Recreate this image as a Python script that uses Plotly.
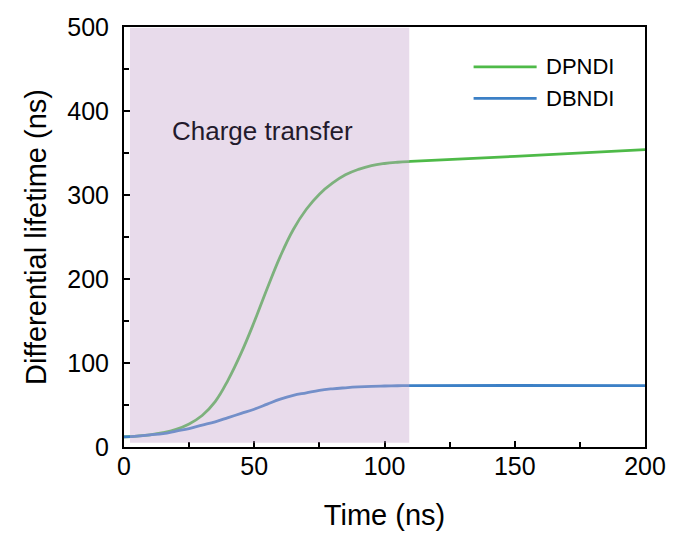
import plotly.graph_objects as go

# Time axis (ns)
time_ns = [0, 5, 10, 15, 20, 25, 30, 35, 40, 45, 50, 55, 60, 65, 70, 75,
           80, 85, 90, 95, 100, 105, 110, 150, 200]

# Differential lifetime (ns)
dpndi = [12, 13, 14.5, 17, 21, 27.5, 37.5, 54, 80, 112, 149, 189, 227, 259, 283, 301,
         314, 324, 330.5, 335, 337.5, 339, 340, 346, 354]
dbndi = [12, 13, 14.5, 16, 19, 22, 26, 30, 35, 40, 45, 51, 57, 61.5, 64.5, 67.5,
         69.3, 70.5, 71.5, 72.2, 72.6, 72.9, 73, 73.2, 73]

series_names = ["DPNDI", "DBNDI"]
series_colors = ["rgb(78,186,72)", "rgb(60,128,198)"]

# Charge-transfer window
ct_start, ct_end = 2.3, 109.5
ct_label = "Charge transfer"

FONT = "Liberation Sans, Arial, sans-serif"

fig = go.Figure()
for name, ys, col in zip(series_names, [dpndi, dbndi], series_colors):
    fig.add_trace(go.Scatter(
        x=time_ns, y=ys, mode="lines", name=name,
        line=dict(color=col, width=2.8, shape="spline", smoothing=1.2),
        showlegend=False,
    ))

# Shaded window drawn above the curves
fig.add_shape(type="rect", xref="x", yref="y",
              x0=ct_start, x1=ct_end, y0=5, y1=499,
              fillcolor="rgba(197,165,205,0.4)", line=dict(width=0),
              layer="above")

fig.add_annotation(x=53, y=376, xref="x", yref="y", text=ct_label,
                   showarrow=False, font=dict(family=FONT, size=26, color="#231a2c"))

# Legend entries
legend_y = [0.905, 0.83]
for name, col, ly in zip(series_names, series_colors, legend_y):
    fig.add_shape(type="line", xref="paper", yref="paper",
                  x0=0.671, x1=0.792, y0=ly, y1=ly,
                  line=dict(color=col, width=2.8))
    fig.add_annotation(x=0.806, y=ly, xref="paper", yref="paper", text=name,
                       showarrow=False, xanchor="left", yanchor="middle",
                       font=dict(family=FONT, size=22, color="black"))

axis_common = dict(
    showline=True, linecolor="black", linewidth=2, mirror=True,
    ticks="inside", ticklen=6, tickwidth=2, tickcolor="black",
    showgrid=False, zeroline=False, automargin=False,
    tickfont=dict(family=FONT, size=25, color="black"),
)

fig.update_xaxes(range=[0, 200], tickvals=[0, 50, 100, 150, 200],
                 minor=dict(tickvals=[25, 75, 125, 175], ticks="inside",
                            ticklen=5, tickwidth=2, tickcolor="black"),
                 ticklabelstandoff=-4,
                 title=dict(text="Time (ns)", font=dict(family=FONT, size=29, color="black"),
                            standoff=26),
                 **axis_common)
fig.update_yaxes(range=[0, 500], tickvals=[0, 100, 200, 300, 400, 500],
                 minor=dict(tickvals=[50, 150, 250, 350, 450], ticks="inside",
                            ticklen=5, tickwidth=2, tickcolor="black"),
                 ticklabelstandoff=8,
                 title=dict(text="Differential lifetime (ns)",
                            font=dict(family=FONT, size=29, color="black"),
                            standoff=12),
                 **axis_common)

fig.update_layout(
    width=673, height=541,
    margin=dict(l=124, r=28, t=27, b=94),
    plot_bgcolor="white", paper_bgcolor="white",
    showlegend=False,
)

fig.write_html("out.html")
